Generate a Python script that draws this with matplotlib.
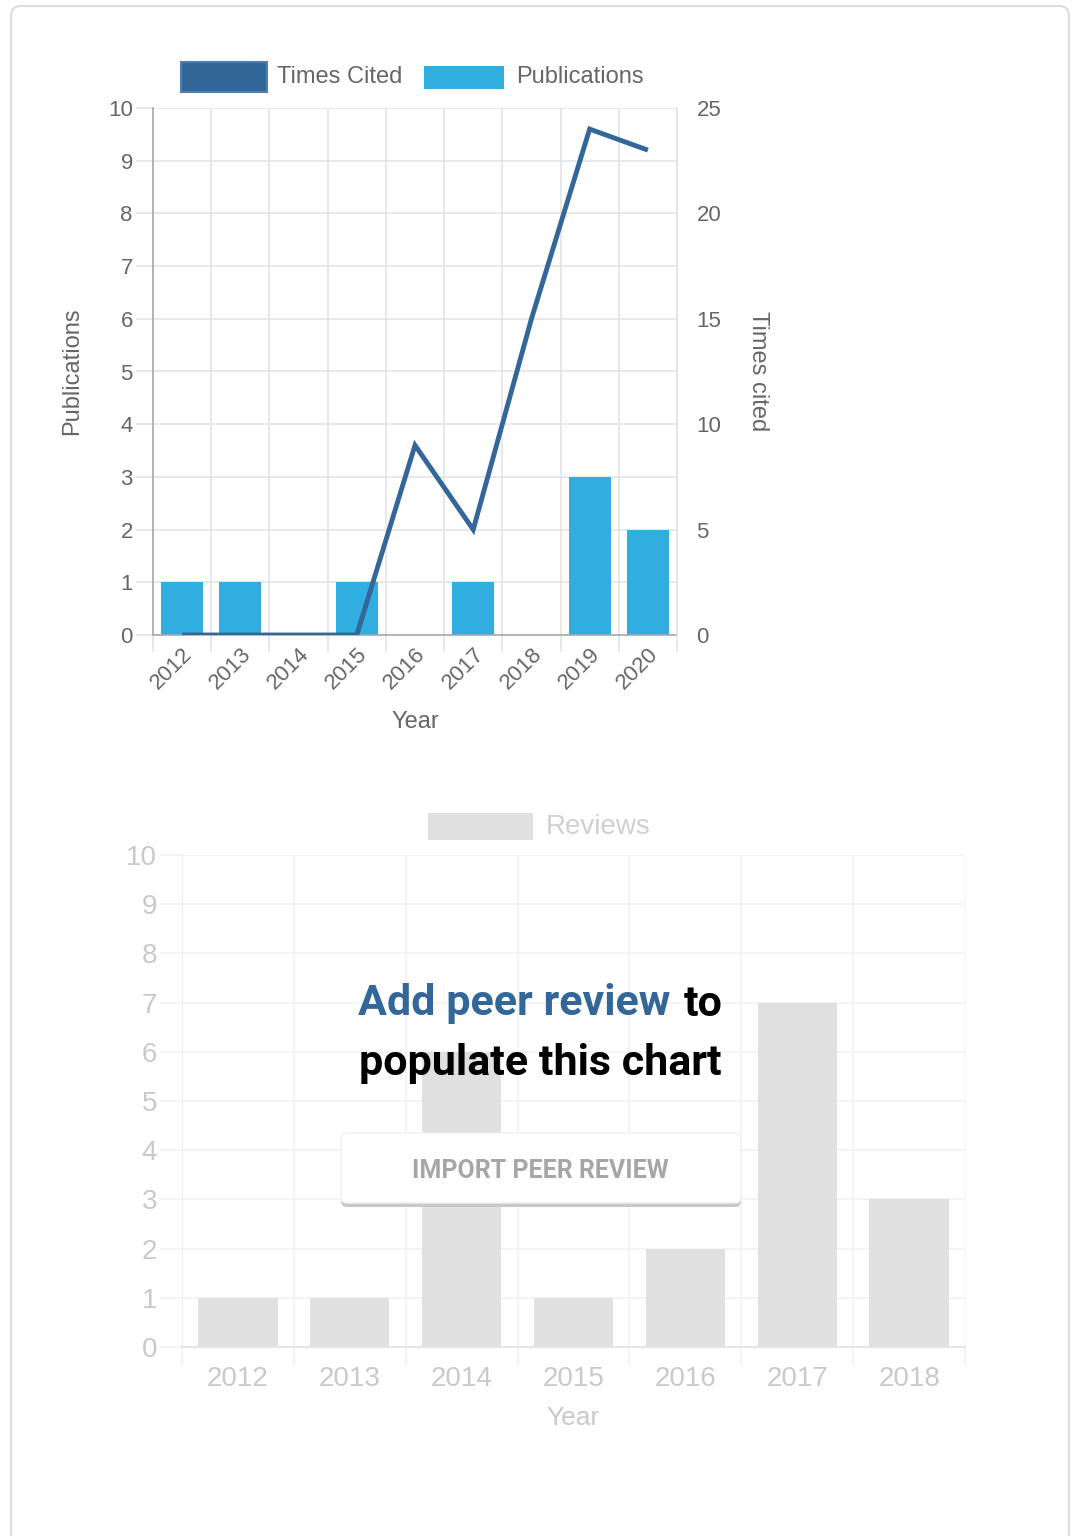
import matplotlib.pyplot as plt
from matplotlib.patches import Rectangle, FancyBboxPatch

# data
years_top = ['2012', '2013', '2014', '2015', '2016', '2017', '2018', '2019', '2020']
publications = [1, 1, 0, 1, 0, 1, 0, 3, 2]
times_cited = [0, 0, 0, 0, 9, 5, 15, 24, 23]

years_bottom = ['2012', '2013', '2014', '2015', '2016', '2017', '2018']
reviews = [1, 1, 6, 1, 2, 7, 3]

W, H = 1077, 1536
BLUE_DARK = '#336699'
BLUE_LIGHT = '#30aee0'
GRID = '#e4e4e4'
TXT = '#666666'

plt.rcParams['font.family'] = ['Liberation Sans', 'DejaVu Sans']


def box(x0, y0, x1, y1):
    # pixel box (top-left origin) -> figure fraction
    return [x0 / W, 1 - y1 / H, (x1 - x0) / W, (y1 - y0) / H]


fig = plt.figure(figsize=(W / 100, H / 100), dpi=100)
fig.patch.set_facecolor('white')

# ---------------- top chart: publications + times cited ----------------
ax = fig.add_axes(box(153, 108, 677, 635))
n = len(years_top)
xs = list(range(n))
ax.bar(xs, publications, width=0.72, color=BLUE_LIGHT, zorder=2)
ax.set_xlim(-0.5, n - 0.5)
ax.set_ylim(0, 10)
ax.set_yticks(range(0, 11))
ax.set_xticks([i - 0.5 for i in range(n + 1)])
ax.set_xticklabels([])
ax.set_xticks(xs, minor=True)
ax.set_xticklabels(years_top, minor=True, rotation=45, ha='right',
                   rotation_mode='anchor', fontsize=16, color=TXT)
ax.tick_params(axis='x', which='major', length=12.5, color=GRID, width=1.2)
ax.tick_params(axis='x', which='minor', length=0, pad=6)
ax.tick_params(axis='y', length=12.5, color=GRID, width=1.2, labelsize=16,
               labelcolor=TXT, pad=2)
ax.grid(True, which='major', color=GRID, lw=1.2, zorder=0)
ax.set_axisbelow(True)
for s in ['top', 'right']:
    ax.spines[s].set_visible(False)
ax.spines['left'].set_color('#a8a8a8')
ax.spines['bottom'].set_color('#a8a8a8')
ax.spines['left'].set_linewidth(1.2)
ax.spines['bottom'].set_linewidth(1.2)
ax.set_xlabel('Year', fontsize=17, color=TXT)
ax.xaxis.set_label_coords(0.5, -0.165)
ax.xaxis.label.set_va('center')
ax.set_ylabel('Publications', fontsize=17, color=TXT)
ax.yaxis.set_label_coords(-0.155, 0.5)
ax.yaxis.label.set_va('center')

ax2 = ax.twinx()
ax2.plot(xs, times_cited, color=BLUE_DARK, lw=3.5, solid_joinstyle='miter',
         solid_capstyle='butt', zorder=3)
ax2.set_ylim(0, 25)
ax2.set_yticks(range(0, 26, 5))
ax2.tick_params(axis='y', length=0, pad=14, labelsize=16, labelcolor=TXT)
for s in ['top', 'left', 'bottom']:
    ax2.spines[s].set_visible(False)
ax2.spines['right'].set_color(GRID)
ax2.spines['right'].set_linewidth(1.2)
ax2.set_ylabel('Times cited', fontsize=17, color=TXT, rotation=270)
ax2.yaxis.set_label_coords(1.155, 0.5)
ax2.yaxis.label.set_va('center')

# ---------------- bottom chart: reviews (placeholder look) ----------------
GRID_B = '#f2f2f2'
TXT_B = '#c9c9c9'
bx = fig.add_axes(box(182, 855, 965, 1347))
m = len(years_bottom)
bxs = list(range(m))
bx.bar(bxs, reviews, width=0.71, color='#e0e0e0', zorder=2)
bx.set_xlim(-0.5, m - 0.5)
bx.set_ylim(0, 10)
bx.set_yticks(range(0, 11))
bx.set_xticks([i - 0.5 for i in range(m + 1)])
bx.set_xticklabels([])
bx.set_xticks(bxs, minor=True)
bx.set_xticklabels(years_bottom, minor=True, fontsize=20, color=TXT_B)
bx.tick_params(axis='x', which='major', length=13, color=GRID_B, width=1.2)
bx.tick_params(axis='x', which='minor', length=0, pad=14)
bx.tick_params(axis='y', length=16, color=GRID_B, width=1.2, labelsize=20,
               labelcolor=TXT_B, pad=2)
bx.grid(True, which='major', color=GRID_B, lw=1.2, zorder=0)
bx.set_axisbelow(True)
for s in ['top', 'right']:
    bx.spines[s].set_visible(False)
bx.spines['left'].set_color('#ececec')
bx.spines['bottom'].set_color('#e6e6e6')
bx.spines['bottom'].set_linewidth(1.5)
bx.set_xlabel('Year', fontsize=19, color=TXT_B)
bx.xaxis.set_label_coords(0.5, -0.144)
bx.xaxis.label.set_va('center')

# ---------------- overlay: card, legends, call to action ----------------
ov = fig.add_axes([0, 0, 1, 1], zorder=5)
ov.set_xlim(0, W)
ov.set_ylim(H, 0)
ov.axis('off')
ov.patch.set_alpha(0)

ov.add_patch(FancyBboxPatch((11, 6), 1058, 1600,
                            boxstyle='round,pad=0,rounding_size=10',
                            fc='none', ec='#dcdcdc', lw=1.5))

# legend of the top chart
ov.add_patch(Rectangle((181, 62), 86, 30, fc=BLUE_DARK, ec='#4d7fb3', lw=1.5))
ov.text(277, 77, 'Times Cited', fontsize=17, color=TXT, va='center', ha='left')
ov.add_patch(Rectangle((424, 66), 80, 23, fc=BLUE_LIGHT, ec='none'))
ov.text(516, 77, 'Publications', fontsize=17, color=TXT, va='center', ha='left')

# legend of the bottom chart
ov.add_patch(Rectangle((428, 813), 105, 27, fc='#e0e0e0', ec='none'))
ov.text(546, 827, 'Reviews', fontsize=20, color='#d0d0d0', va='center', ha='left')

# call to action
fnt = dict(family=['Roboto', 'DejaVu Sans'], weight='bold', fontsize=31)
t1 = ov.text(0, 1004, 'Add peer review', color=BLUE_DARK, va='center', ha='left', **fnt)
t2 = ov.text(0, 1004, 'to', color='black', va='center', ha='left', **fnt)
r = fig.canvas.get_renderer()
w1 = t1.get_window_extent(r).width
w2 = t2.get_window_extent(r).width
gap = 13
x0 = 540 - (w1 + gap + w2) / 2
t1.set_x(x0)
t2.set_x(x0 + w1 + gap)
ov.text(540, 1063, 'populate this chart', color='black', va='center', ha='center', **fnt)

# button
ov.add_patch(FancyBboxPatch((341, 1137), 400, 70, boxstyle='round,pad=0,rounding_size=6',
                            fc='#c8c8c8', ec='none'))
ov.add_patch(FancyBboxPatch((341, 1133), 400, 70, boxstyle='round,pad=0,rounding_size=6',
                            fc='white', ec='#f0f0f0', lw=1))
ov.text(540, 1171, 'IMPORT PEER REVIEW', family=['Roboto', 'DejaVu Sans'], weight='bold',
        fontsize=18, color='#a6a6a6', va='center', ha='center')

fig.savefig('out.png', dpi=100)
